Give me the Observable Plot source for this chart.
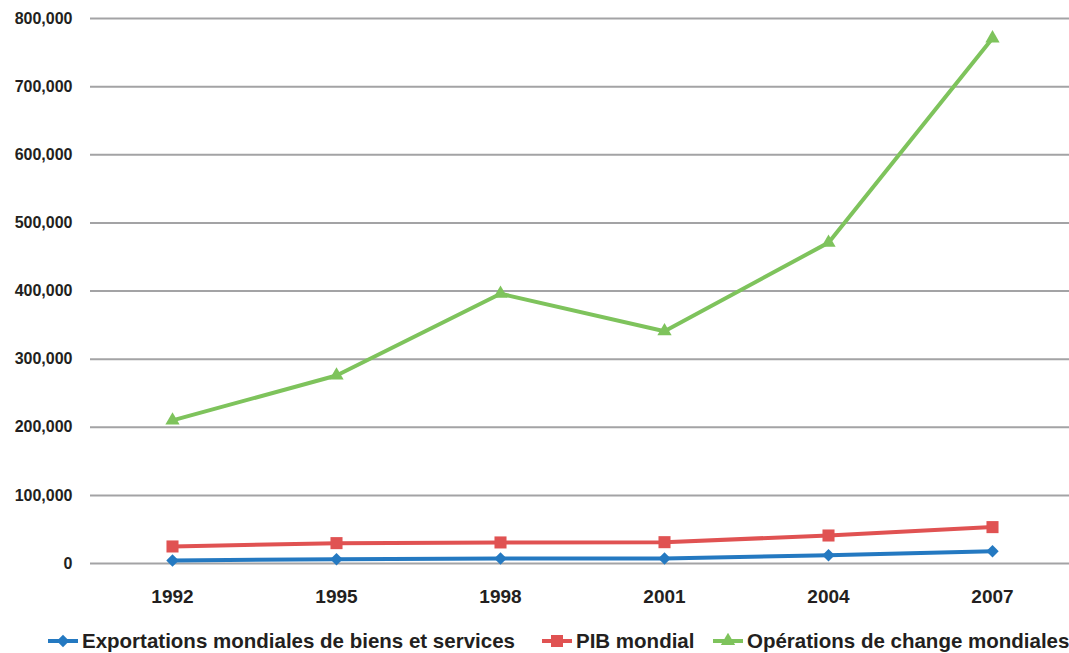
<!DOCTYPE html>
<html>
<head>
<meta charset="utf-8">
<script src="https://cdn.jsdelivr.net/npm/d3@7"></script>
<script src="https://cdn.jsdelivr.net/npm/@observablehq/plot@0.6"></script>
<style>
  html, body { margin: 0; padding: 0; background: #fff; }
  body { width: 1069px; height: 653px; overflow: hidden; font-family: "Liberation Sans", Arial, Helvetica, sans-serif; }
  #legend { position: relative; width: 1069px; height: 38px; }
  .item { position: absolute; top: 14px; display: flex; align-items: center; font-weight: bold; font-size: 20.5px; color: #231f20; white-space: nowrap; }
  .item svg { display: block; margin-right: 4px; }
</style>
</head>
<body>
<div id="chart"></div>
<div id="legend"></div>
<script>
const years = ["1992", "1995", "1998", "2001", "2004", "2007"];
const seriesNames = ["Exportations mondiales de biens et services", "PIB mondial", "Opérations de change mondiales"];
const exportations = [4400, 6300, 7300, 7300, 12200, 18000];
const pib = [25000, 29900, 30900, 31300, 41100, 53400];
const change = [210000, 276000, 396000, 341000, 471000, 771000];
const yTicks = [0, 100000, 200000, 300000, 400000, 500000, 600000, 700000, 800000];
const colors = ["#2479c1", "#e05252", "#7ec35c"];
const symbols = ["diamond2", "square", "triangle"];
const radii = [5.6, 6.8, 5.3];

const seriesValues = [exportations, pib, change];
const data = [];
seriesNames.forEach((s, i) => years.forEach((y, j) => data.push({series: s, year: y, value: seriesValues[i][j]})));

const font = `"Liberation Sans", Arial, Helvetica, sans-serif`;
const marks = [
  Plot.gridY(yTicks, {stroke: "#a3a3a5", strokeOpacity: 1, strokeWidth: 2}),
  Plot.axisY(yTicks, {tickSize: 0, tickPadding: 18, tickFormat: d3.format(","), fontSize: 16, fontWeight: "bold", fill: "#231f20", label: null}),
  Plot.axisX({tickSize: 0, tickPadding: 26, fontSize: 19, fontWeight: "bold", fill: "#231f20", label: null})
];
seriesNames.forEach((s, i) => {
  const d = data.filter(r => r.series === s);
  marks.push(Plot.line(d, {x: "year", y: "value", stroke: colors[i], strokeWidth: 4}));
  marks.push(Plot.dot(d, {x: "year", y: "value", symbol: () => symbols[i], fill: colors[i], stroke: "none", r: radii[i]}));
});

const chart = Plot.plot({
  width: 1069,
  height: 615,
  marginLeft: 90,
  marginRight: 0,
  marginTop: 18,
  marginBottom: 52,
  style: {fontFamily: font, background: "#fff", overflow: "visible"},
  x: {type: "point", domain: years, padding: 0.5, insetRight: -5, label: null},
  y: {domain: [0, 800000], label: null},
  symbol: {type: "identity"},
  marks
});
document.getElementById("chart").appendChild(chart);

// legend
const legend = d3.select("#legend");
const lefts = [48, 542, 713];
seriesNames.forEach((s, i) => {
  const item = legend.append("div").attr("class", "item").style("left", lefts[i] + "px");
  const svg = item.append("svg").attr("width", 30).attr("height", 16);
  svg.append("line").attr("x1", 0).attr("x2", 30).attr("y1", 8).attr("y2", 8).attr("stroke", colors[i]).attr("stroke-width", 4);
  const symType = [d3.symbolDiamond2, d3.symbolSquare, d3.symbolTriangle][i];
  svg.append("path").attr("transform", "translate(15,8)").attr("d", d3.symbol(symType, Math.PI * radii[i] * radii[i])()).attr("fill", colors[i]);
  item.append("span").text(s);
});
</script>
</body>
</html>
